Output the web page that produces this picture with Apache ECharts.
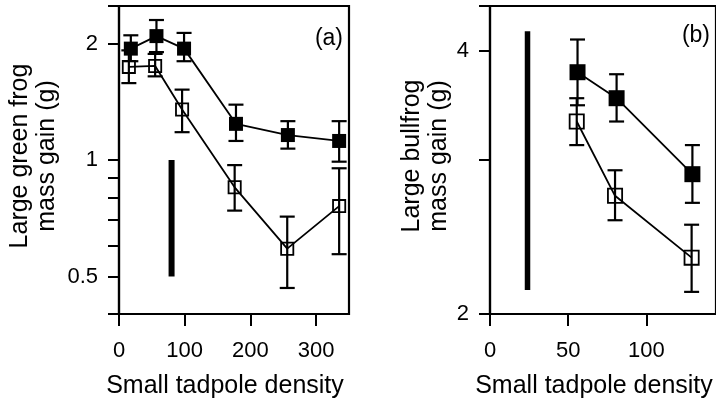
<!DOCTYPE html>
<html>
<head>
<meta charset="utf-8">
<script src="https://cdn.jsdelivr.net/npm/echarts@6/dist/echarts.min.js"></script>
<style>
html,body{margin:0;padding:0;background:#fff;}
#chart{width:716px;height:404px;}
</style>
</head>
<body>
<div id="chart"></div>
<script>
// panel (a): large green frog
var densA_filled = [18, 57, 99, 178, 257, 335];
var gainA_filled = [1.94, 2.09, 1.94, 1.24, 1.16, 1.12];
var loA_filled   = [1.80, 1.90, 1.80, 1.12, 1.07, 0.99];
var hiA_filled   = [2.10, 2.30, 2.13, 1.39, 1.26, 1.26];

var densA_open = [15, 55, 96, 176, 256, 335];
var gainA_open = [1.74, 1.75, 1.35, 0.85, 0.59, 0.76];
var loA_open   = [1.58, 1.645, 1.18, 0.74, 0.467, 0.571];
var hiA_open   = [1.92, 1.88, 1.52, 0.97, 0.714, 0.952];

var barA = [80, 0.5, 1];   // x, low, high

// panel (b): large bullfrog
var densB_filled = [56, 81, 129.5];
var gainB_filled = [3.78, 3.53, 2.89];
var loB_filled   = [3.465, 3.32, 2.68];
var hiB_filled   = [4.12, 3.76, 3.12];

var densB_open = [55.5, 80, 129];
var gainB_open = [3.32, 2.73, 2.32];
var loB_open   = [3.12, 2.56, 2.12];
var hiB_open   = [3.53, 2.92, 2.53];

var barB = [24, 2.13, 4.21];

// axis ticks
var xTicksA = [0, 100, 200, 300];
var yTicksA = [0.4, 0.5, 0.6, 0.7, 0.8, 0.9, 1, 2, 2.5];
var yLabelsA = [0.5, 1, 2];
var xTicksB = [0, 50, 100];
var yTicksB = [2, 3, 4, 4.5];
var yLabelsB = [2, 4];

var FONT = "'Liberation Sans', Arial, Helvetica, sans-serif";

function lg(v){ return Math.log10(v); }

function points(xs, ys){
	return xs.map(function(x, i){ return [x, lg(ys[i])]; });
}
function errs(xs, lo, hi){
	return xs.map(function(x, i){ return [x, lg(lo[i]), lg(hi[i])]; });
}

function renderErr(params, api){
	var x = api.value(0);
	var p1 = api.coord([x, api.value(1)]);
	var p2 = api.coord([x, api.value(2)]);
	var w = 7.5;
	var st = {stroke: '#000', lineWidth: 2.2};
	return {
		type: 'group',
		children: [
			{type: 'line', shape: {x1: p1[0], y1: p1[1], x2: p2[0], y2: p2[1]}, style: st},
			{type: 'line', shape: {x1: p1[0]-w, y1: p1[1], x2: p1[0]+w, y2: p1[1]}, style: st},
			{type: 'line', shape: {x1: p2[0]-w, y1: p2[1], x2: p2[0]+w, y2: p2[1]}, style: st}
		]
	};
}

function xAxisOf(idx, max, ticks){
	return {
		type: 'value', gridIndex: idx, min: 0, max: max,
		name: 'Small tadpole density', nameLocation: 'middle', nameGap: 60,
		nameTextStyle: {fontFamily: FONT, fontSize: 25, color: '#000', padding: [0, 18, 0, 0]},
		axisLine: {show: true, onZero: false, lineStyle: {color: '#000', width: 2.2}},
		axisTick: {show: true, length: 12, customValues: ticks, lineStyle: {color: '#000', width: 2}},
		axisLabel: {customValues: ticks, margin: 26, fontFamily: FONT, fontSize: 22, color: '#000'},
		splitLine: {show: false}
	};
}

function yAxisOf(idx, min, max, ticks, labels, name, gap){
	return {
		type: 'value', gridIndex: idx, min: lg(min), max: lg(max),
		name: name, nameLocation: 'middle', nameGap: gap, nameRotate: 90,
		nameTextStyle: {fontFamily: FONT, fontSize: 25, color: '#000', lineHeight: 27, padding: [0, 0, 0, 8]},
		axisLine: {show: true, onZero: false, lineStyle: {color: '#000', width: 2.2}},
		axisTick: {show: true, length: 11, customValues: ticks.map(lg), lineStyle: {color: '#000', width: 2}},
		axisLabel: {
			customValues: labels.map(lg), margin: 21,
			fontFamily: FONT, fontSize: 22, color: '#000',
			formatter: function(v){
				for (var i = 0; i < labels.length; i++) {
					if (Math.abs(lg(labels[i]) - v) < 1e-6) return String(labels[i]);
				}
				return '';
			}
		},
		splitLine: {show: false}
	};
}

function panelSeries(idx, xf, yf, lof, hif, xo, yo, loo, hio, bar, size, barW){
	return [
		{type: 'custom', xAxisIndex: idx, yAxisIndex: idx, renderItem: renderErr,
		 encode: {x: 0, y: [1, 2]}, data: errs(xo, loo, hio), silent: true},
		{type: 'custom', xAxisIndex: idx, yAxisIndex: idx, renderItem: renderErr,
		 encode: {x: 0, y: [1, 2]}, data: errs(xf, lof, hif), silent: true},
		{type: 'line', xAxisIndex: idx, yAxisIndex: idx, data: points(xo, yo),
		 symbol: 'rect', symbolSize: size - 1.8,
		 lineStyle: {color: '#000', width: 1.8},
		 itemStyle: {color: 'rgba(0,0,0,0)', borderColor: '#000', borderWidth: 1.8},
		 animation: false, z: 3},
		{type: 'line', xAxisIndex: idx, yAxisIndex: idx, data: points(xf, yf),
		 symbol: 'rect', symbolSize: size,
		 lineStyle: {color: '#000', width: 1.8},
		 itemStyle: {color: '#000'},
		 animation: false, z: 4},
		{type: 'line', xAxisIndex: idx, yAxisIndex: idx,
		 data: [[bar[0], lg(bar[1])], [bar[0], lg(bar[2])]],
		 symbol: 'none', lineStyle: {color: '#000', width: barW, cap: 'butt'},
		 animation: false}
	];
}

var myChart = echarts.init(document.getElementById('chart'));

var option = {
	backgroundColor: '#fff',
	animation: false,
	grid: [
		{left: 119, top: 6, width: 230, height: 308, show: true, borderColor: '#000', borderWidth: 2.2},
		{left: 490, top: 6, width: 229, height: 308, show: true, borderColor: '#000', borderWidth: 2.2}
	],
	xAxis: [xAxisOf(0, 350, xTicksA), xAxisOf(1, 144.6, xTicksB)],
	yAxis: [
		yAxisOf(0, 0.4, 2.5, yTicksA, yLabelsA, 'Large green frog\nmass gain (g)', 58),
		yAxisOf(1, 2, 4.5, yTicksB, yLabelsB, 'Large bullfrog\nmass gain (g)', 33)
	],
	graphic: [
		{type: 'text', right: 716 - 343, top: 27, style: {text: '(a)', font: '23px ' + FONT, fill: '#000'}},
		{type: 'text', right: 716 - 710, top: 24, style: {text: '(b)', font: '23px ' + FONT, fill: '#000'}}
	],
	series: [].concat(
		panelSeries(0, densA_filled, gainA_filled, loA_filled, hiA_filled,
			densA_open, gainA_open, loA_open, hiA_open, barA, 14, 6),
		panelSeries(1, densB_filled, gainB_filled, loB_filled, hiB_filled,
			densB_open, gainB_open, loB_open, hiB_open, barB, 16, 5.5)
	)
};

myChart.setOption(option);
</script>
</body>
</html>
